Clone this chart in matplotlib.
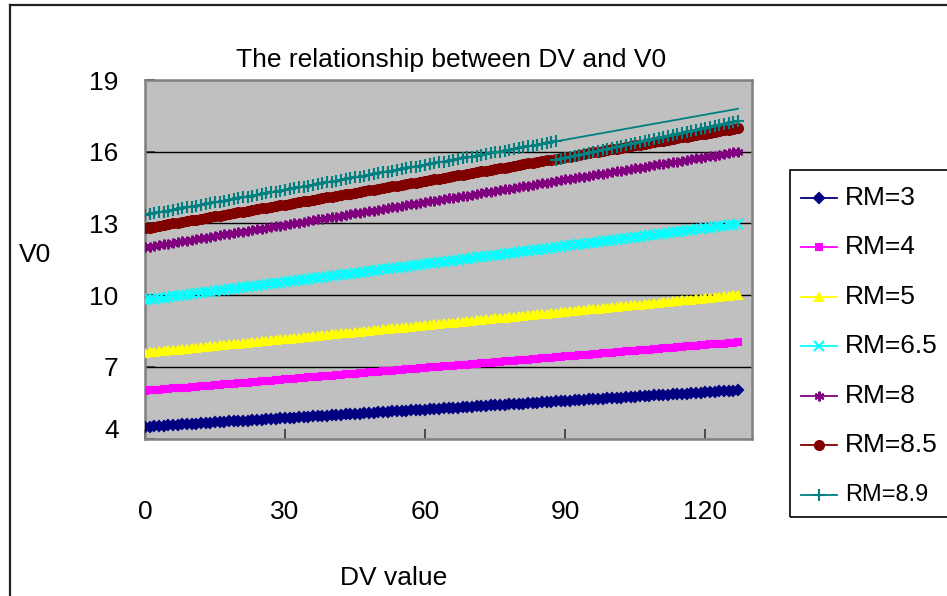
import matplotlib
matplotlib.use('Agg')
import matplotlib.pyplot as plt
from matplotlib.lines import Line2D
from matplotlib.patches import Rectangle
from matplotlib import transforms

plt.rcParams['font.family'] = ['Liberation Sans', 'DejaVu Sans']

# DV values (categories 0..127)
dv = list(range(0, 128))

rm3 = [4.50, 4.51, 4.52, 4.54, 4.55, 4.56, 4.57, 4.58, 4.60, 4.61, 4.62, 4.63, 4.64, 4.66, 4.67, 4.68,
       4.69, 4.70, 4.72, 4.73, 4.74, 4.75, 4.76, 4.78, 4.79, 4.80, 4.81, 4.82, 4.84, 4.85, 4.86, 4.87,
       4.88, 4.90, 4.91, 4.92, 4.93, 4.94, 4.96, 4.97, 4.98, 4.99, 5.00, 5.02, 5.03, 5.04, 5.05, 5.06,
       5.08, 5.09, 5.10, 5.11, 5.12, 5.14, 5.15, 5.16, 5.17, 5.18, 5.20, 5.21, 5.22, 5.23, 5.24, 5.26,
       5.27, 5.28, 5.29, 5.30, 5.32, 5.33, 5.34, 5.35, 5.36, 5.38, 5.39, 5.40, 5.41, 5.42, 5.44, 5.45,
       5.46, 5.47, 5.48, 5.50, 5.51, 5.52, 5.53, 5.54, 5.56, 5.57, 5.58, 5.59, 5.60, 5.62, 5.63, 5.64,
       5.65, 5.66, 5.68, 5.69, 5.70, 5.71, 5.72, 5.74, 5.75, 5.76, 5.77, 5.78, 5.80, 5.81, 5.82, 5.83,
       5.84, 5.86, 5.87, 5.88, 5.89, 5.90, 5.92, 5.93, 5.94, 5.95, 5.96, 5.98, 5.99, 6.00, 6.01, 6.02]

rm4 = [6.00, 6.02, 6.03, 6.05, 6.06, 6.08, 6.10, 6.11, 6.13, 6.14, 6.16, 6.18, 6.19, 6.21, 6.22, 6.24,
       6.26, 6.27, 6.29, 6.30, 6.32, 6.34, 6.35, 6.37, 6.38, 6.40, 6.42, 6.43, 6.45, 6.46, 6.48, 6.50,
       6.51, 6.53, 6.54, 6.56, 6.58, 6.59, 6.61, 6.62, 6.64, 6.66, 6.67, 6.69, 6.70, 6.72, 6.74, 6.75,
       6.77, 6.78, 6.80, 6.82, 6.83, 6.85, 6.86, 6.88, 6.90, 6.91, 6.93, 6.94, 6.96, 6.98, 6.99, 7.01,
       7.02, 7.04, 7.06, 7.07, 7.09, 7.10, 7.12, 7.14, 7.15, 7.17, 7.18, 7.20, 7.22, 7.23, 7.25, 7.26,
       7.28, 7.30, 7.31, 7.33, 7.34, 7.36, 7.38, 7.39, 7.41, 7.42, 7.44, 7.46, 7.47, 7.49, 7.50, 7.52,
       7.54, 7.55, 7.57, 7.58, 7.60, 7.62, 7.63, 7.65, 7.66, 7.68, 7.70, 7.71, 7.73, 7.74, 7.76, 7.78,
       7.79, 7.81, 7.82, 7.84, 7.86, 7.87, 7.89, 7.90, 7.92, 7.94, 7.95, 7.97, 7.98, 8.00, 8.02, 8.03]

rm5 = [7.60, 7.62, 7.64, 7.66, 7.68, 7.70, 7.71, 7.73, 7.75, 7.77, 7.79, 7.81, 7.83, 7.85, 7.87, 7.89,
       7.90, 7.92, 7.94, 7.96, 7.98, 8.00, 8.02, 8.04, 8.06, 8.08, 8.09, 8.11, 8.13, 8.15, 8.17, 8.19,
       8.21, 8.23, 8.25, 8.27, 8.28, 8.30, 8.32, 8.34, 8.36, 8.38, 8.40, 8.42, 8.44, 8.46, 8.47, 8.49,
       8.51, 8.53, 8.55, 8.57, 8.59, 8.61, 8.63, 8.65, 8.66, 8.68, 8.70, 8.72, 8.74, 8.76, 8.78, 8.80,
       8.82, 8.84, 8.85, 8.87, 8.89, 8.91, 8.93, 8.95, 8.97, 8.99, 9.01, 9.03, 9.04, 9.06, 9.08, 9.10,
       9.12, 9.14, 9.16, 9.18, 9.20, 9.22, 9.23, 9.25, 9.27, 9.29, 9.31, 9.33, 9.35, 9.37, 9.39, 9.41,
       9.42, 9.44, 9.46, 9.48, 9.50, 9.52, 9.54, 9.56, 9.58, 9.60, 9.61, 9.63, 9.65, 9.67, 9.69, 9.71,
       9.73, 9.75, 9.77, 9.79, 9.80, 9.82, 9.84, 9.86, 9.88, 9.90, 9.92, 9.94, 9.96, 9.98, 9.99, 10.01]

rm65 = [9.80, 9.83, 9.85, 9.88, 9.90, 9.93, 9.95, 9.98, 10.00, 10.03, 10.05, 10.08, 10.10, 10.13, 10.15, 10.18,
        10.20, 10.23, 10.25, 10.28, 10.30, 10.33, 10.35, 10.38, 10.40, 10.43, 10.45, 10.48, 10.50, 10.53, 10.55, 10.58,
        10.60, 10.63, 10.65, 10.68, 10.70, 10.73, 10.75, 10.78, 10.80, 10.83, 10.85, 10.88, 10.90, 10.93, 10.95, 10.98,
        11.00, 11.03, 11.05, 11.08, 11.10, 11.13, 11.15, 11.18, 11.20, 11.23, 11.25, 11.28, 11.30, 11.33, 11.35, 11.38,
        11.40, 11.43, 11.45, 11.48, 11.50, 11.53, 11.55, 11.58, 11.60, 11.63, 11.65, 11.68, 11.70, 11.73, 11.75, 11.78,
        11.80, 11.83, 11.85, 11.88, 11.90, 11.93, 11.95, 11.98, 12.00, 12.03, 12.05, 12.08, 12.10, 12.13, 12.15, 12.18,
        12.20, 12.23, 12.25, 12.28, 12.30, 12.33, 12.35, 12.38, 12.40, 12.43, 12.45, 12.48, 12.50, 12.53, 12.55, 12.58,
        12.60, 12.63, 12.65, 12.68, 12.70, 12.73, 12.75, 12.78, 12.80, 12.83, 12.85, 12.88, 12.90, 12.93, 12.95, 12.98]

rm8 = [12.00, 12.03, 12.06, 12.09, 12.13, 12.16, 12.19, 12.22, 12.25, 12.28, 12.32, 12.35, 12.38, 12.41, 12.44, 12.47,
       12.50, 12.54, 12.57, 12.60, 12.63, 12.66, 12.69, 12.72, 12.76, 12.79, 12.82, 12.85, 12.88, 12.91, 12.95, 12.98,
       13.01, 13.04, 13.07, 13.10, 13.13, 13.17, 13.20, 13.23, 13.26, 13.29, 13.32, 13.35, 13.39, 13.42, 13.45, 13.48,
       13.51, 13.54, 13.58, 13.61, 13.64, 13.67, 13.70, 13.73, 13.76, 13.80, 13.83, 13.86, 13.89, 13.92, 13.95, 13.98,
       14.02, 14.05, 14.08, 14.11, 14.14, 14.17, 14.21, 14.24, 14.27, 14.30, 14.33, 14.36, 14.39, 14.43, 14.46, 14.49,
       14.52, 14.55, 14.58, 14.61, 14.65, 14.68, 14.71, 14.74, 14.77, 14.80, 14.84, 14.87, 14.90, 14.93, 14.96, 14.99,
       15.02, 15.06, 15.09, 15.12, 15.15, 15.18, 15.21, 15.24, 15.28, 15.31, 15.34, 15.37, 15.40, 15.43, 15.47, 15.50,
       15.53, 15.56, 15.59, 15.62, 15.65, 15.69, 15.72, 15.75, 15.78, 15.81, 15.84, 15.87, 15.91, 15.94, 15.97, 16.00]

rm85 = [12.80, 12.83, 12.87, 12.90, 12.93, 12.97, 13.00, 13.03, 13.06, 13.10, 13.13, 13.16, 13.20, 13.23, 13.26, 13.30,
        13.33, 13.36, 13.39, 13.43, 13.46, 13.49, 13.53, 13.56, 13.59, 13.63, 13.66, 13.69, 13.72, 13.76, 13.79, 13.82,
        13.86, 13.89, 13.92, 13.96, 13.99, 14.02, 14.05, 14.09, 14.12, 14.15, 14.19, 14.22, 14.25, 14.29, 14.32, 14.35,
        14.38, 14.42, 14.45, 14.48, 14.52, 14.55, 14.58, 14.62, 14.65, 14.68, 14.71, 14.75, 14.78, 14.81, 14.85, 14.88,
        14.91, 14.95, 14.98, 15.01, 15.04, 15.08, 15.11, 15.14, 15.18, 15.21, 15.24, 15.28, 15.31, 15.34, 15.37, 15.41,
        15.44, 15.47, 15.51, 15.54, 15.57, 15.61, 15.64, 15.67, 15.70, 15.74, 15.77, 15.80, 15.84, 15.87, 15.90, 15.94,
        15.97, 16.00, 16.03, 16.07, 16.10, 16.13, 16.17, 16.20, 16.23, 16.27, 16.30, 16.33, 16.36, 16.40, 16.43, 16.46,
        16.50, 16.53, 16.56, 16.60, 16.63, 16.66, 16.69, 16.73, 16.76, 16.79, 16.83, 16.86, 16.89, 16.93, 16.96, 16.99]

rm89 = [13.35, 13.39, 13.42, 13.46, 13.49, 13.53, 13.56, 13.60, 13.63, 13.67, 13.70, 13.74, 13.77, 13.81, 13.84, 13.88,
        13.91, 13.95, 13.98, 14.02, 14.05, 14.09, 14.12, 14.16, 14.19, 14.23, 14.26, 14.30, 14.33, 14.37, 14.40, 14.44,
        14.47, 14.51, 14.54, 14.58, 14.61, 14.65, 14.68, 14.72, 14.75, 14.79, 14.82, 14.86, 14.89, 14.93, 14.96, 15.00,
        15.03, 15.07, 15.10, 15.14, 15.17, 15.21, 15.24, 15.28, 15.31, 15.35, 15.38, 15.42, 15.45, 15.49, 15.52, 15.56,
        15.59, 15.63, 15.66, 15.70, 15.73, 15.77, 15.80, 15.84, 15.87, 15.91, 15.94, 15.98, 16.01, 16.05, 16.08, 16.12,
        16.15, 16.19, 16.22, 16.26, 16.29, 16.33, 16.36, 16.40, 16.43, 16.47, 16.50, 16.54, 16.57, 16.61, 16.64, 16.68,
        16.71, 16.75, 16.78, 16.82, 16.85, 16.89, 16.92, 16.96, 16.99, 17.03, 17.06, 17.10, 17.13, 17.17, 17.20, 17.24,
        17.27, 17.31, 17.34, 17.38, 17.41, 17.45, 17.48, 17.52, 17.55, 17.59, 17.62, 17.66, 17.69, 17.73, 17.76, 17.80]

# second (lower) marked stretch of RM=8.9, DV 88..127
dv89b = dv[88:]
rm89b = [15.65, 15.69, 15.73, 15.78, 15.82, 15.86, 15.90, 15.94, 15.99, 16.03,
         16.07, 16.11, 16.15, 16.20, 16.24, 16.28, 16.32, 16.36, 16.41, 16.45,
         16.49, 16.53, 16.57, 16.62, 16.66, 16.70, 16.74, 16.78, 16.83, 16.87,
         16.91, 16.95, 16.99, 17.04, 17.08, 17.12, 17.16, 17.20, 17.25, 17.29]

labels = ['RM=3', 'RM=4', 'RM=5', 'RM=6.5', 'RM=8', 'RM=8.5', 'RM=8.9']
colors = ['#000080', '#FF00FF', '#FFFF00', '#00FFFF', '#800080', '#800000', '#008080']
markers = ['D', 's', '^', 'x', (6, 2, 0), 'o', '+']
msizes = [5.5, 5, 6, 6.5, 7, 6.5, 8]
series = [rm3, rm4, rm5, rm65, rm8, rm85, rm89]

W, H = 947, 596


def fx(px):
    return px / W


def fy(py):
    return 1 - py / H


fig = plt.figure(figsize=(W / 100, H / 100), dpi=100)
ax = fig.add_axes([fx(145), fy(438.7), fx(752) - fx(145), fy(80) - fy(438.7)])
ax.set_facecolor('#C0C0C0')

for i, (vals, lab, col, mk, ms) in enumerate(zip(series, labels, colors, markers, msizes)):
    every = slice(0, 89) if lab == 'RM=8.9' else None
    ax.plot(dv, vals, color=col, lw=1.3, marker=mk, markersize=ms,
            markerfacecolor=col, markeredgecolor=col, markeredgewidth=1.5,
            markevery=every, zorder=3 + i)
ax.plot(dv89b, rm89b, color=colors[6], lw=1.3, marker='+', markersize=8,
        markeredgewidth=1.5, zorder=10)

ax.set_xlim(0, 130)
ax.set_ylim(4, 19)
ax.set_xticks([0, 30, 60, 90, 120])
ax.set_yticks([4, 7, 10, 13, 16, 19])
for y in [7, 10, 13, 16]:
    ax.axhline(y, color='black', lw=1, zorder=2)

for s in ax.spines.values():
    s.set_color('#808080')
    s.set_linewidth(1.8)

ax.tick_params(axis='both', direction='in', length=7.5, width=1.3, color='#404040',
               labelsize=19)
ax.tick_params(axis='x', pad=44)
ax.tick_params(axis='y', pad=19)

# the "4" label sits a little above the axis bottom in the original
for lbl in ax.get_yticklabels():
    if lbl.get_text() == '4':
        lbl.set_transform(lbl.get_transform() +
                          transforms.ScaledTranslation(0, 0.10, fig.dpi_scale_trans))

fig.text(fx(451), fy(60), 'The relationship between DV and V0', fontsize=19,
         ha='center', va='center')
fig.text(fx(35), fy(255), 'V0', fontsize=19, ha='center', va='center')
fig.text(fx(394), fy(578), 'DV value', fontsize=19, ha='center', va='center')

# outer chart border (only top and left are inside the picture)
fig.add_artist(Line2D([fx(10), fx(10)], [fy(5), 0], color='#202020', lw=1.6))
fig.add_artist(Line2D([fx(10), 1], [fy(5), fy(5)], color='#202020', lw=1.6))

# legend box
fig.add_artist(Rectangle((fx(790), fy(517)), 1, fy(170) - fy(517), fill=False,
                         edgecolor='black', lw=1.2, transform=fig.transFigure))
rows = [198, 247, 297, 346, 396, 445, 495]
for lab, col, mk, ms, yy in zip(labels, colors, markers, msizes, rows):
    fig.add_artist(Line2D([fx(801), fx(837)], [fy(yy), fy(yy)], color=col, lw=1.3))
    fig.add_artist(Line2D([fx(819)], [fy(yy)], color=col, marker=mk, markersize=ms,
                          markerfacecolor=col, markeredgecolor=col, markeredgewidth=1.5))
    fs = 17 if lab == 'RM=8.9' else 19
    fig.text(fx(845), fy(yy), lab, fontsize=fs, ha='left', va='center')

fig.savefig('out.png', dpi=100)
